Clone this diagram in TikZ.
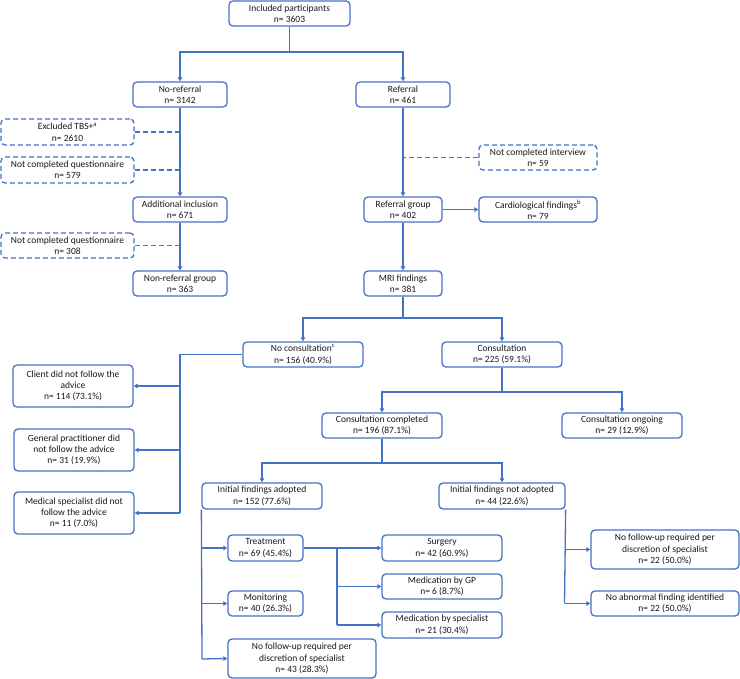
\documentclass[tikz,border=0pt]{standalone}
\usepackage{fontspec}
\setmainfont{Carlito}
\usetikzlibrary{arrows.meta}
\definecolor{ob}{HTML}{4472C4}
\tikzset{
  box/.style={draw=ob, line width=1.3pt, rounded corners=4pt, align=center, inner sep=0pt,
     font=\fontsize{9.5}{11.3}\selectfont, text=black!90, fill=white},
  dbox/.style={box, dash pattern=on 5pt off 3pt},
  ln/.style={draw=ob, line width=1.3pt},
  arr/.style={ln, -{Triangle[length=4pt,width=4.5pt]}},
  dln/.style={ln, dash pattern=on 5pt off 3pt},
}
\newcommand{\bx}[6]{\node[#1, minimum width=#4pt, minimum height=#5pt] (#2) at (#3) {#6};}
\begin{document}
\begin{tikzpicture}[x=1pt,y=-1pt]
\useasboundingbox (0,0) rectangle (740,679);
\bx{box}{inc}{289.5,13.5}{121}{25}{Included participants\\n= 3603}
\bx{box}{noref}{180,94.5}{94}{25}{No-referral\\n= 3142}
\bx{box}{ref}{403,94.5}{94}{25}{Referral\\n= 461}
\bx{dbox}{excl}{67.5,132}{133}{26}{Excluded TBS+\textsuperscript{a}\\n= 2610}
\bx{dbox}{ncqa}{67.5,170}{133}{26}{Not completed questionnaire\\n= 579}
\bx{box}{addinc}{180,209.5}{94}{25}{Additional inclusion\\n= 671}
\bx{dbox}{ncqb}{67.5,245.5}{133}{25}{Not completed questionnaire\\n= 308}
\bx{box}{nrg}{180,283.5}{94}{25}{Non-referral group\\n= 363}
\bx{dbox}{nci}{538,157.5}{118}{25}{Not completed interview\\n= 59}
\bx{box}{refgrp}{403,209.5}{78}{25}{Referral group\\n= 402}
\bx{box}{cardio}{538,209.5}{118}{25}{Cardiological findings\textsuperscript{b}\\n= 79}
\bx{box}{mri}{403,283.5}{78}{25}{MRI findings\\n= 381}
\bx{box}{nocons}{303,354.5}{120}{25}{No consultation\textsuperscript{c}\\n= 156 (40.9\%)}
\bx{box}{cons}{502,354.5}{120}{25}{Consultation\\n= 225 (59.1\%)}
\bx{box}{client}{73,386}{120}{42}{Client did not follow the\\advice\\n= 114 (73.1\%)}
\bx{box}{gp}{74,450}{120}{42}{General practitioner did\\not follow the advice\\n= 31 (19.9\%)}
\bx{box}{med}{74,513}{120}{42}{Medical specialist did not\\follow the advice\\n= 11 (7.0\%)}
\bx{box}{concomp}{382,425.5}{120}{25}{Consultation completed\\n= 196 (87.1\%)}
\bx{box}{conong}{622,425.5}{120}{25}{Consultation ongoing\\n= 29 (12.9\%)}
\bx{box}{ifa}{262,496}{120}{26}{Initial findings adopted\\n= 152 (77.6\%)}
\bx{box}{ifna}{502,496}{126}{26}{Initial findings not adopted\\n= 44 (22.6\%)}
\bx{box}{treat}{265.5,548}{75}{26}{Treatment\\n= 69 (45.4\%)}
\bx{box}{monit}{265.5,603.5}{75}{25}{Monitoring\\n= 40 (26.3\%)}
\bx{box}{nofua}{302,658.5}{148}{39}{No follow-up required per\\discretion of specialist\\n= 43 (28.3\%)}
\bx{box}{surg}{442,548}{120}{26}{Surgery\\n= 42 (60.9\%)}
\bx{box}{medgp}{442,586.5}{120}{25}{Medication by GP\\n= 6 (8.7\%)}
\bx{box}{medsp}{442,625}{120}{26}{Medication by specialist\\n= 21 (30.4\%)}
\bx{box}{nofub}{665,549.5}{148}{39}{No follow-up required per\\discretion of specialist\\n= 22 (50.0\%)}
\bx{box}{noab}{665,603.5}{148}{25}{No abnormal finding identified\\n= 22 (50.0\%)}

\coordinate (j1) at (289.5,52);
\draw[ln] (inc) -- (j1);
\draw[arr] (j1) -| (noref);
\draw[arr] (j1) -| (ref);
\draw[arr] (noref) -- (addinc);
\draw[arr] (addinc) -- (nrg);
\draw[dln] (excl.east) -- (excl.east -| noref.center);
\draw[dln] (ncqa.east) -- (ncqa.east -| noref.center);
\draw[dln] (ncqb.east) -- (ncqb.east -| noref.center);
\draw[arr] (ref) -- (refgrp);
\draw[dln] (nci.west) -- (nci.west -| ref.center);
\draw[arr] (refgrp) -- (cardio);
\draw[arr] (refgrp) -- (mri);

\coordinate (j2) at (403,318);
\draw[ln] (mri) -- (j2);
\draw[arr] (j2) -| (nocons);
\draw[arr] (j2) -| (cons);

\coordinate (s1) at (180,354.5);
\coordinate (s2) at (180,513);
\draw[ln] (nocons.west) -- (s1) -- (s2);
\draw[arr] (client.east -| s1) -- (client.east);
\draw[arr] (gp.east -| s1) -- (gp.east);
\draw[arr] (s2) -- (med.east);

\coordinate (j3) at (502,392);
\draw[ln] (cons) -- (j3);
\draw[arr] (j3) -| (concomp);
\draw[arr] (j3) -| (conong);

\coordinate (j4) at (382,463);
\draw[ln] (concomp) -- (j4);
\draw[arr] (j4) -| (ifa);
\draw[arr] (j4) -| (ifna);

\coordinate (s3) at (202,659);
\draw[ln] (ifa.south west) -- (s3);
\draw[arr] (treat.west -| s3) -- (treat.west);
\draw[arr] (monit.west -| s3) -- (monit.west);
\draw[arr] (s3) -- (nofua.west);

\coordinate (t1) at (337,548);
\coordinate (t2) at (337,625);
\draw[ln] (treat.east) -- (t1) -- (t2);
\draw[arr] (t1) -- (surg.west);
\draw[arr] (medgp.west -| t1) -- (medgp.west);
\draw[arr] (t2) -- (medsp.west);

\coordinate (u1) at (564.5,603.5);
\draw[ln] (ifna.south east) -- (u1);
\draw[arr] (nofub.west -| u1) -- (nofub.west);
\draw[arr] (u1) -- (noab.west);
\end{tikzpicture}
\end{document}
